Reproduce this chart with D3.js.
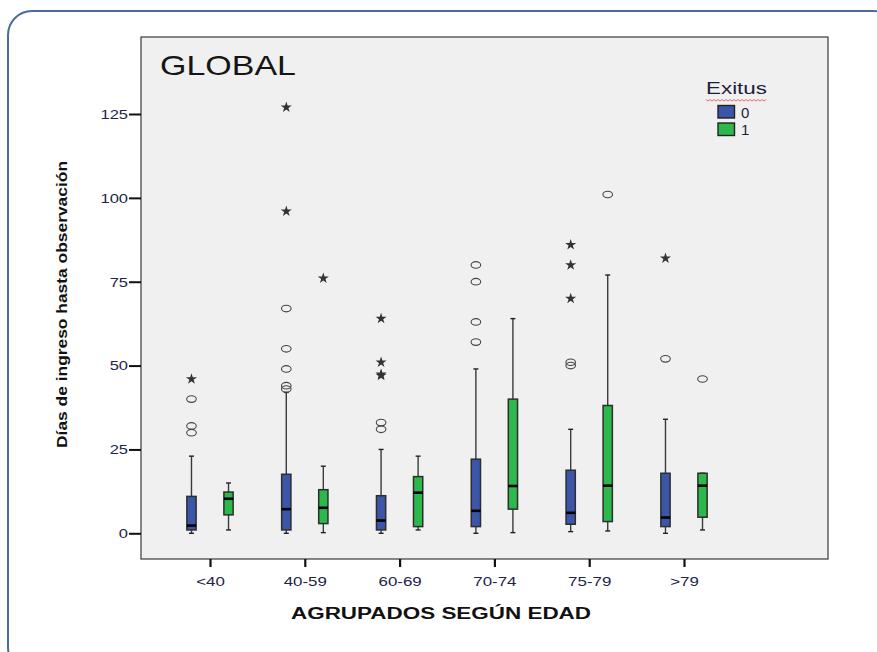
<!DOCTYPE html>
<html>
<head>
<meta charset="utf-8">
<script src="https://cdn.jsdelivr.net/npm/d3@7/dist/d3.min.js"></script>
<style>
  html, body { margin: 0; padding: 0; background: #ffffff; }
  svg { display: block; }
  text { font-family: "Liberation Sans", Arial, sans-serif; }
</style>
</head>
<body>
<svg id="chart" width="877" height="652"></svg>
<script>
// Age groups and the two outcome groups (Exitus 0 / 1)
const categories = ["<40", "40-59", "60-69", "70-74", "75-79", ">79"];
const groups = ["0", "1"];
const groupColors = ["#3b56a8", "#2db84b"];
const yTicks = [0, 25, 50, 75, 100, 125];

// Box summaries per age group: [whiskerLow, q1, median, q3, whiskerHigh]
const statsExitus0 = [
  [0, 1, 2.3, 11, 23],
  [0, 1, 7.2, 17.6, 42],
  [0, 1, 3.8, 11.2, 25],
  [0, 2, 6.7, 22.1, 49],
  [0.5, 2.7, 6.1, 18.8, 31],
  [0, 2, 4.7, 17.9, 34]
];
const statsExitus1 = [
  [1, 5.5, 10.3, 12.3, 15],
  [0.2, 2.9, 7.6, 13, 20],
  [1, 2, 12.1, 16.9, 23],
  [0.2, 7.2, 14.1, 40, 64],
  [0.7, 3.5, 14.2, 38.1, 77],
  [1, 4.8, 14.2, 17.9, 17.9]
];

// Outliers (circles) and extreme values (stars) per age group
const outliersExitus0 = [[40, 32, 30], [67, 55, 49, 44, 43], [33, 31], [80, 75, 63, 57], [51, 50], [52]];
const extremesExitus0 = [[46], [127, 96], [64, 51, 47, 47.4], [], [86, 80, 70], [82]];
const outliersExitus1 = [[], [], [], [], [101], [46]];
const extremesExitus1 = [[], [76], [], [], [], []];

const svg = d3.select("#chart");

// Widen a text element horizontally by a factor (wide, stretched lettering)
function stretch(sel, factor) {
  sel.each(function () {
    const w = this.getComputedTextLength();
    d3.select(this).attr("textLength", w * factor).attr("lengthAdjust", "spacingAndGlyphs");
  });
}

// Outer rounded panel
svg.append("rect")
  .attr("x", 8).attr("y", 11)
  .attr("width", 890).attr("height", 660)
  .attr("rx", 24).attr("ry", 24)
  .attr("fill", "#ffffff")
  .attr("stroke", "#4a6b9b")
  .attr("stroke-width", 2);

const plot = { left: 141, top: 37, right: 828, bottom: 559 };

// Plot area background
svg.append("rect")
  .attr("x", plot.left).attr("y", plot.top)
  .attr("width", plot.right - plot.left).attr("height", plot.bottom - plot.top)
  .attr("fill", "#f0f0f0")
  .attr("stroke", "#3a3a3a")
  .attr("stroke-width", 1.2);

const x = d3.scalePoint().domain(categories).range([210, 684]);
const xg = d3.scaleBand().domain(groups).range([-25, 25]).paddingInner(0.75).paddingOuter(0.05);
const y = d3.scaleLinear().domain([0, 125]).range([533.3, 114]);

// Y axis
const yAxis = svg.append("g")
  .attr("transform", `translate(${plot.left},0)`)
  .call(d3.axisLeft(y).tickValues(yTicks).tickSize(12).tickPadding(1));
yAxis.select(".domain").remove();
yAxis.selectAll(".tick line").attr("stroke", "#111").attr("stroke-width", 2);
yAxis.selectAll(".tick text").attr("fill", "#23234a").attr("font-size", 13.5);
stretch(yAxis.selectAll(".tick text"), 1.22);

// X axis
const xAxis = svg.append("g")
  .attr("transform", `translate(0,${plot.bottom})`)
  .call(d3.axisBottom(x).tickSize(8).tickPadding(9));
xAxis.select(".domain").remove();
xAxis.selectAll(".tick line").attr("stroke", "#111").attr("stroke-width", 2.2);
xAxis.selectAll(".tick text").attr("fill", "#23234a").attr("font-size", 13.5);
stretch(xAxis.selectAll(".tick text"), 1.25);

// Axis titles
svg.append("text")
  .attr("x", 441).attr("y", 619)
  .attr("text-anchor", "middle")
  .attr("font-weight", "bold").attr("font-size", 16)
  .attr("textLength", 300).attr("lengthAdjust", "spacingAndGlyphs")
  .attr("fill", "#111")
  .text("AGRUPADOS SEGÚN EDAD");

svg.append("text")
  .attr("transform", "translate(67,304.5) rotate(-90)")
  .attr("text-anchor", "middle")
  .attr("font-weight", "bold").attr("font-size", 15.5)
  .attr("textLength", 287).attr("lengthAdjust", "spacingAndGlyphs")
  .attr("fill", "#111")
  .text("Días de ingreso hasta observación");

// Panel title
svg.append("text")
  .attr("x", 160).attr("y", 75)
  .attr("font-family", "'Open Sans', sans-serif")
  .attr("font-size", 27.5)
  .attr("textLength", 136).attr("lengthAdjust", "spacingAndGlyphs")
  .attr("fill", "#151515")
  .text("GLOBAL");

// Boxes
const seriesList = [
  { key: "0", stats: statsExitus0, out: outliersExitus0, ext: extremesExitus0, color: groupColors[0] },
  { key: "1", stats: statsExitus1, out: outliersExitus1, ext: extremesExitus1, color: groupColors[1] }
];

const star = d3.symbol().type(d3.symbolStar).size(38);
const boxW = xg.bandwidth();

seriesList.forEach(s => {
  categories.forEach((cat, i) => {
    const [lo, q1, med, q3, hi] = s.stats[i];
    const cx = x(cat) + xg(s.key) + boxW / 2;
    const g = svg.append("g");

    // Whiskers
    g.append("line")
      .attr("x1", cx).attr("x2", cx)
      .attr("y1", y(hi)).attr("y2", y(q3))
      .attr("stroke", "#3a3a3a").attr("stroke-width", 1.4);
    g.append("line")
      .attr("x1", cx).attr("x2", cx)
      .attr("y1", y(q1)).attr("y2", y(lo))
      .attr("stroke", "#3a3a3a").attr("stroke-width", 1.4);
    [lo, hi].forEach(v => {
      g.append("line")
        .attr("x1", cx - 2.5).attr("x2", cx + 2.5)
        .attr("y1", y(v)).attr("y2", y(v))
        .attr("stroke", "#222").attr("stroke-width", 1.4);
    });

    // Box
    g.append("rect")
      .attr("x", cx - boxW / 2).attr("y", y(q3))
      .attr("width", boxW).attr("height", y(q1) - y(q3))
      .attr("fill", s.color)
      .attr("stroke", "#2e2e2e").attr("stroke-width", 1.5);

    // Median
    g.append("line")
      .attr("x1", cx - boxW / 2).attr("x2", cx + boxW / 2)
      .attr("y1", y(med)).attr("y2", y(med))
      .attr("stroke", "#000").attr("stroke-width", 2.6);

    // Outliers
    s.out[i].forEach(v => {
      g.append("ellipse")
        .attr("cx", cx).attr("cy", y(v))
        .attr("rx", 4.8).attr("ry", 3.3)
        .attr("fill", "none")
        .attr("stroke", "#444").attr("stroke-width", 1.1);
    });

    // Extreme values
    s.ext[i].forEach(v => {
      g.append("path")
        .attr("d", star())
        .attr("transform", `translate(${cx},${y(v)})`)
        .attr("fill", "#333");
    });
  });
});

// Legend
const legend = svg.append("g");
legend.append("text")
  .attr("x", 706).attr("y", 94)
  .attr("font-size", 17)
  .attr("textLength", 61).attr("lengthAdjust", "spacingAndGlyphs")
  .attr("fill", "#1e1e3c")
  .text("Exitus");
// spell-check style wavy underline under the legend title
const wave = d3.range(0, 31).map(k => [706 + k * 2, 99.5 + (k % 2 === 0 ? 0 : 1.6)]);
legend.append("path")
  .attr("d", d3.line()(wave))
  .attr("fill", "none")
  .attr("stroke", "#e25a5a")
  .attr("stroke-width", 0.9);

groups.forEach((gk, i) => {
  legend.append("rect")
    .attr("x", 718).attr("y", 105.5 + i * 17.5)
    .attr("width", 16.5).attr("height", 12.5)
    .attr("fill", groupColors[i])
    .attr("stroke", "#222").attr("stroke-width", 1.4);
  legend.append("text")
    .attr("x", 741).attr("y", 117.5 + i * 17.5)
    .attr("font-size", 15)
    .attr("fill", "#1e1e3c")
    .text(gk);
});
</script>
</body>
</html>
